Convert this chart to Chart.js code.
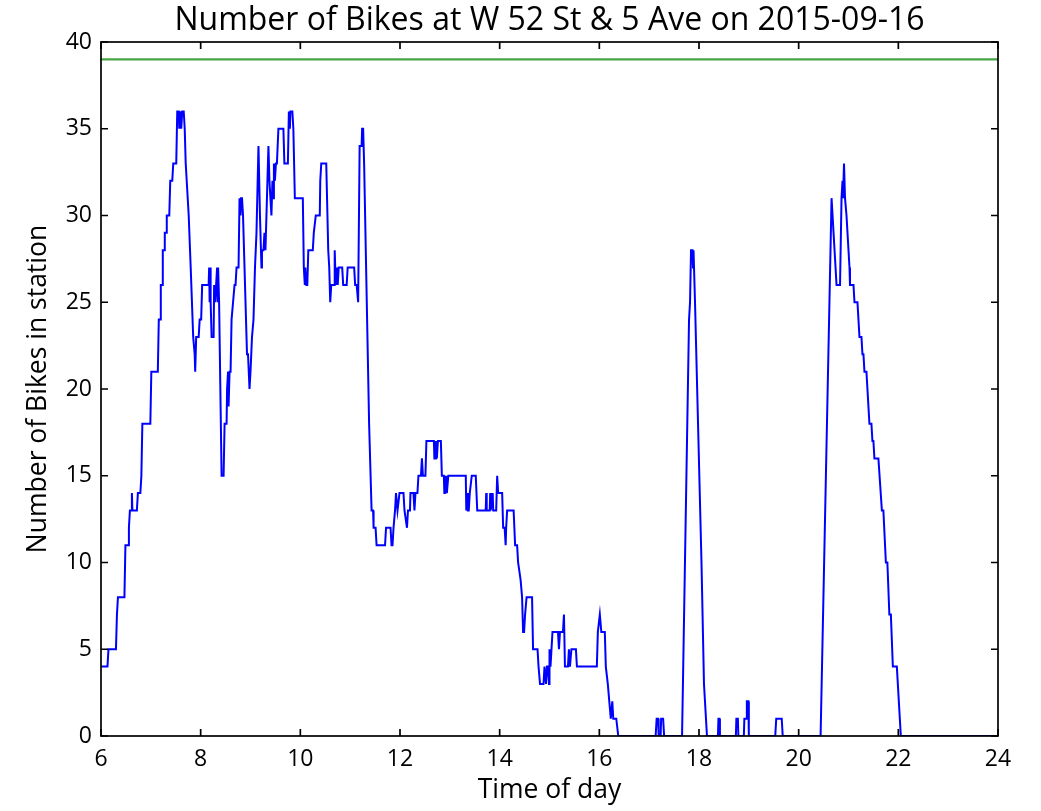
<!DOCTYPE html>
<html>
<head>
<meta charset="utf-8">
<title>Bikes at W 52 St &amp; 5 Ave</title>
<script src="https://cdn.jsdelivr.net/npm/chart.js@4.4.1/dist/chart.umd.min.js"></script>
<style>
  html, body { margin: 0; padding: 0; background: #ffffff; }
  #wrap { width: 1041px; height: 811px; }
</style>
</head>
<body>
<div id="wrap"><canvas id="bikesChart" width="1041" height="811"></canvas></div>
<script>
// Station readings for 2015-09-16 (hour of day -> bikes docked)
var hours = [
  6.00, 6.13, 6.15, 6.30, 6.32, 6.34, 6.47, 6.49, 6.55, 6.56, 6.58, 6.61, 6.62, 6.63, 6.72, 6.74, 6.79, 6.81, 6.83, 6.99,
  7.01, 7.14, 7.16, 7.19, 7.20, 7.23, 7.24, 7.27, 7.28, 7.31, 7.32, 7.37, 7.39, 7.43, 7.45, 7.51,
  7.53, 7.56, 7.57, 7.59, 7.61, 7.63, 7.66, 7.68, 7.70, 7.72,
  7.76, 7.80, 7.85, 7.88, 7.89, 7.91, 7.96, 7.98, 8.01, 8.03, 8.16, 8.17, 8.18, 8.19, 8.20, 8.22, 8.26, 8.27, 8.29, 8.31,
  8.33, 8.34, 8.35, 8.37, 8.42, 8.46, 8.48, 8.52, 8.53, 8.55, 8.56, 8.58, 8.60, 8.62, 8.65, 8.68, 8.70, 8.72, 8.76, 8.78,
  8.80, 8.81, 8.83, 8.85, 8.89, 8.93, 8.95, 8.98, 9.00, 9.03, 9.06, 9.09, 9.12, 9.16, 9.19, 9.22, 9.23, 9.26, 9.28, 9.30,
  9.33, 9.36, 9.38, 9.40, 9.42, 9.44, 9.46, 9.47, 9.49, 9.51, 9.53, 9.56, 9.66, 9.68, 9.75, 9.77, 9.79, 9.80, 9.84, 9.86,
  9.89, 10.05, 10.07, 10.09, 10.10, 10.12, 10.14, 10.16, 10.25, 10.27, 10.31, 10.39, 10.40, 10.42, 10.52, 10.56, 10.58, 10.60, 10.62, 10.68,
  10.69, 10.71, 10.73, 10.75, 10.77, 10.84, 10.86, 10.93, 10.95, 11.08, 11.10, 11.13, 11.16, 11.19, 11.23, 11.24, 11.26, 11.28, 11.38, 11.43,
  11.46, 11.47, 11.51, 11.53, 11.70, 11.72, 11.81, 11.83, 11.85, 11.87, 11.90, 11.92, 11.95, 11.99, 12.07, 12.09, 12.14, 12.16, 12.20, 12.21,
  12.27, 12.29, 12.31, 12.35, 12.37, 12.42, 12.44, 12.46, 12.51, 12.53, 12.68, 12.69, 12.70, 12.71, 12.72, 12.74, 12.76, 12.82, 12.84, 12.88,
  12.89, 12.90, 12.91, 12.93, 12.94, 12.97, 13.32, 13.33, 13.35, 13.36, 13.38, 13.40, 13.44, 13.52, 13.55, 13.72, 13.73, 13.74, 13.80, 13.81,
  13.82, 13.86, 13.87, 13.93, 13.95, 13.97, 14.05, 14.07, 14.10, 14.12, 14.13, 14.15, 14.28, 14.31, 14.35, 14.37, 14.42, 14.45, 14.47, 14.49,
  14.51, 14.54, 14.65, 14.67, 14.76, 14.78, 14.81, 14.88, 14.90, 14.93, 14.95, 14.97, 14.99, 15.00, 15.02, 15.04, 15.06, 15.17, 15.19, 15.21,
  15.27, 15.29, 15.31, 15.37, 15.39, 15.41, 15.44, 15.53, 15.55, 15.95, 15.97, 16.01, 16.04, 16.11, 16.13, 16.17, 16.20, 16.23, 16.26, 16.28,
  16.34, 16.38, 17.13, 17.15, 17.18, 17.19, 17.23, 17.24, 17.28, 17.30, 17.66, 17.80, 17.82, 17.84, 17.87, 17.88, 17.89, 17.90, 17.92, 18.05,
  18.10, 18.16, 18.38, 18.39, 18.41, 18.42, 18.74, 18.75, 18.78, 18.79, 18.90, 18.91, 18.95, 18.96, 18.99, 19.00, 19.53, 19.55, 19.66, 19.68,
  20.44, 20.66, 20.76, 20.83, 20.86, 20.88, 20.89, 20.91, 20.93, 20.96, 21.00, 21.02, 21.03, 21.10, 21.12, 21.18, 21.20, 21.22, 21.26, 21.28,
  21.30, 21.32, 21.36, 21.38, 21.40, 21.42, 21.46, 21.48, 21.50, 21.52, 21.60, 21.67, 21.70, 21.75, 21.78, 21.82, 21.85, 21.89, 21.97, 22.05,
  24.00
];
var bikes = [
  4, 4, 5, 5, 7, 8, 8, 11, 11, 12, 13, 13, 14, 13, 13, 14, 14, 15, 18, 18,
  21, 21, 24, 24, 26, 26, 28, 28, 29, 29, 30, 30, 32, 32, 33, 33,
  36, 36, 35, 36, 35, 36, 36, 35, 33, 32,
  30, 27, 23, 22, 21, 23, 23, 24, 24, 26, 26, 27, 25, 27, 25, 23, 23, 26, 25, 26,
  27, 25, 27, 25, 15, 15, 18, 18, 20, 21, 19, 21, 21, 24, 25, 26, 26, 27, 27, 31,
  30, 31, 31, 30, 26, 22, 22, 20, 21, 23, 24, 27, 29, 34, 30, 27, 28, 28, 29, 28,
  31, 34, 32, 31, 30, 32, 31, 33, 32, 33, 33, 35, 35, 33, 33, 36, 35, 36, 36, 35,
  31, 31, 27, 26, 27, 26, 26, 28, 28, 29, 30, 30, 32, 33, 33, 28, 27, 25, 26, 26,
  28, 26, 27, 26, 27, 27, 26, 26, 27, 27, 26, 26, 25, 34, 34, 35, 35, 33, 18, 13,
  13, 12, 12, 11, 11, 12, 12, 11, 11, 12, 13, 14, 13, 14, 14, 13, 12, 13, 13, 14,
  14, 13, 14, 14, 15, 15, 16, 15, 15, 17, 17, 16, 17, 16, 17, 16, 17, 17, 15, 15,
  14, 15, 14, 15, 14, 15, 15, 13, 14, 13, 13, 14, 15, 15, 13, 13, 14, 13, 13, 14,
  13, 14, 13, 13, 15, 14, 14, 12, 12, 11, 12, 13, 13, 11, 11, 10, 9, 8, 6, 6,
  7, 8, 8, 5, 5, 4, 3, 3, 4, 3, 4, 4, 3, 5, 4, 5, 6, 6, 5, 6,
  6, 7, 4, 4, 5, 4, 5, 5, 4, 4, 6, 7, 6, 6, 4, 3, 2, 1, 2, 1,
  1, 0, 0, 1, 1, 0, 0, 1, 1, 0, 0, 24, 25, 28, 28, 27, 28, 27, 25, 10,
  3, 0, 0, 1, 1, 0, 0, 1, 1, 0, 0, 1, 1, 2, 2, 0, 0, 1, 1, 0,
  0, 31, 26, 26, 31, 32, 31, 33, 31, 30, 28, 27, 26, 26, 25, 25, 24, 23, 23, 22,
  22, 21, 21, 20, 19, 18, 18, 17, 17, 16, 16, 13, 13, 10, 10, 7, 7, 4, 4, 0,
  0
];

// Dock count of the station, drawn as a flat reference line
var capacity = 39;

var xTicks = [6, 8, 10, 12, 14, 16, 18, 20, 22, 24];
var yTicks = [0, 5, 10, 15, 20, 25, 30, 35, 40];

var FONT = 'Open Sans, DejaVu Sans, sans-serif';

// Black box round the plot with short inward ticks on every side
var frameTicks = {
  id: 'frameTicks',
  afterDatasetsDraw: function (chart) {
    var ctx = chart.ctx;
    var a = chart.chartArea;
    var sx = chart.scales.x;
    var sy = chart.scales.y;
    var len = 7;
    ctx.save();
    ctx.strokeStyle = '#000000';
    ctx.lineWidth = 1.7;
    ctx.beginPath();
    for (var i = 0; i < xTicks.length; i++) {
      var px = sx.getPixelForValue(xTicks[i]);
      ctx.moveTo(px, a.bottom); ctx.lineTo(px, a.bottom - len);
      ctx.moveTo(px, a.top); ctx.lineTo(px, a.top + len);
    }
    for (var j = 0; j < yTicks.length; j++) {
      var py = sy.getPixelForValue(yTicks[j]);
      ctx.moveTo(a.left, py); ctx.lineTo(a.left + len, py);
      ctx.moveTo(a.right, py); ctx.lineTo(a.right - len, py);
    }
    ctx.stroke();
    ctx.strokeRect(a.left, a.top, a.right - a.left, a.bottom - a.top);
    ctx.restore();
  }
};

var points = hours.map(function (h, i) { return { x: h, y: bikes[i] }; });

new Chart(document.getElementById('bikesChart'), {
  type: 'line',
  data: {
    datasets: [{
      data: points,
      borderColor: '#0000ff',
      borderWidth: 2,
      pointRadius: 0,
      tension: 0
    }, {
      data: [{ x: xTicks[0], y: capacity }, { x: xTicks[xTicks.length - 1], y: capacity }],
      borderColor: '#46a646',
      borderWidth: 2.2,
      pointRadius: 0
    }]
  },
  options: {
    responsive: false,
    animation: false,
    events: [],
    layout: { padding: { left: 0, right: 43, top: 0, bottom: 0 } },
    plugins: {
      legend: { display: false },
      tooltip: { enabled: false },
      title: {
        display: true,
        fullSize: false,
        text: 'Number of Bikes at W 52 St & 5 Ave on 2015-09-16',
        color: '#000000',
        font: { family: FONT, size: 32, weight: 'normal' },
        padding: { top: 1.8, bottom: 1.8 }
      }
    },
    scales: {
      x: {
        type: 'linear',
        min: 6,
        max: 24,
        afterBuildTicks: function (s) { s.ticks = xTicks.map(function (v) { return { value: v }; }); },
        afterFit: function (s) { s.height = 75; },
        grid: { display: false, drawTicks: false },
        border: { display: false },
        ticks: { color: '#000000', padding: 10, maxRotation: 0, font: { family: FONT, size: 23 } },
        title: {
          display: true, text: 'Time of day', color: '#000000',
          font: { family: FONT, size: 26.5 }, padding: { top: 0, bottom: 5 }
        }
      },
      y: {
        min: 0,
        max: 40,
        afterBuildTicks: function (s) { s.ticks = yTicks.map(function (v) { return { value: v }; }); },
        afterFit: function (s) { s.width = 101; },
        grid: { display: false, drawTicks: false },
        border: { display: false },
        ticks: { color: '#000000', padding: 9, font: { family: FONT, size: 23 } },
        title: {
          display: true, text: 'Number of Bikes in station', color: '#000000',
          font: { family: FONT, size: 26.5 }, padding: { top: 22.5, bottom: 0 }
        }
      }
    }
  },
  plugins: [frameTicks]
});
</script>
</body>
</html>
